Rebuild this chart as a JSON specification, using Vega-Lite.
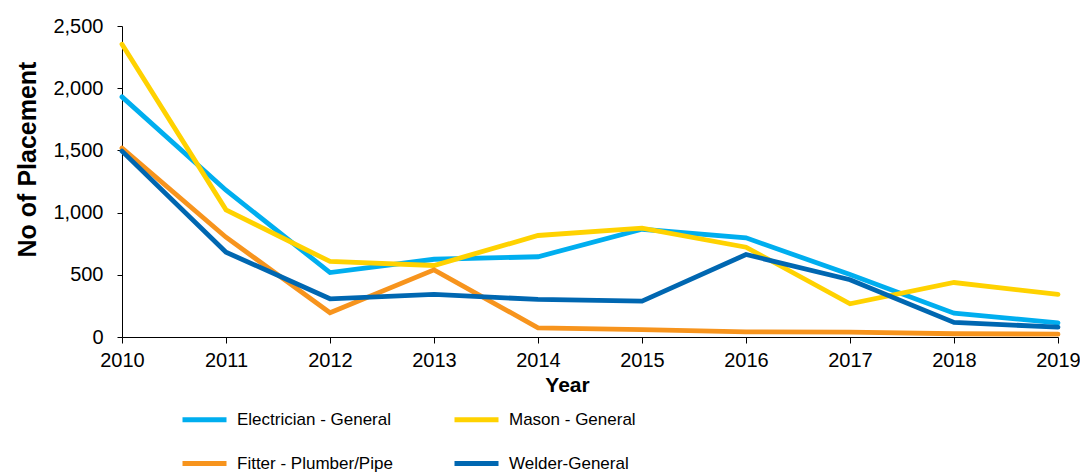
{
  "$schema": "https://vega.github.io/schema/vega-lite/v6.json",
  "width": 936,
  "height": 311,
  "autosize": "none",
  "padding": {"left": 122, "top": 26, "right": 22, "bottom": 137},
  "background": "white",
  "config": {
    "view": {"stroke": null},
    "font": "Liberation Sans",
    "axis": {"labelFont": "Liberation Sans", "titleFont": "Liberation Sans", "labelColor": "#000", "titleColor": "#000", "domainColor": "#000", "tickColor": "#000", "grid": false}
  },
  "data": {
    "values": [
      {"year": 2010, "trade": "Electrician - General", "n": 1930},
      {"year": 2011, "trade": "Electrician - General", "n": 1180},
      {"year": 2012, "trade": "Electrician - General", "n": 518},
      {"year": 2013, "trade": "Electrician - General", "n": 625},
      {"year": 2014, "trade": "Electrician - General", "n": 645},
      {"year": 2015, "trade": "Electrician - General", "n": 866},
      {"year": 2016, "trade": "Electrician - General", "n": 797},
      {"year": 2017, "trade": "Electrician - General", "n": 502},
      {"year": 2018, "trade": "Electrician - General", "n": 191},
      {"year": 2019, "trade": "Electrician - General", "n": 114},
      {"year": 2010, "trade": "Mason - General", "n": 2354},
      {"year": 2011, "trade": "Mason - General", "n": 1022},
      {"year": 2012, "trade": "Mason - General", "n": 607},
      {"year": 2013, "trade": "Mason - General", "n": 575},
      {"year": 2014, "trade": "Mason - General", "n": 816},
      {"year": 2015, "trade": "Mason - General", "n": 875},
      {"year": 2016, "trade": "Mason - General", "n": 722},
      {"year": 2017, "trade": "Mason - General", "n": 267},
      {"year": 2018, "trade": "Mason - General", "n": 438},
      {"year": 2019, "trade": "Mason - General", "n": 342},
      {"year": 2010, "trade": "Fitter - Plumber/Pipe", "n": 1518},
      {"year": 2011, "trade": "Fitter - Plumber/Pipe", "n": 802},
      {"year": 2012, "trade": "Fitter - Plumber/Pipe", "n": 195},
      {"year": 2013, "trade": "Fitter - Plumber/Pipe", "n": 540},
      {"year": 2014, "trade": "Fitter - Plumber/Pipe", "n": 74},
      {"year": 2015, "trade": "Fitter - Plumber/Pipe", "n": 60},
      {"year": 2016, "trade": "Fitter - Plumber/Pipe", "n": 42},
      {"year": 2017, "trade": "Fitter - Plumber/Pipe", "n": 39},
      {"year": 2018, "trade": "Fitter - Plumber/Pipe", "n": 26},
      {"year": 2019, "trade": "Fitter - Plumber/Pipe", "n": 23},
      {"year": 2010, "trade": "Welder-General", "n": 1494},
      {"year": 2011, "trade": "Welder-General", "n": 682},
      {"year": 2012, "trade": "Welder-General", "n": 307},
      {"year": 2013, "trade": "Welder-General", "n": 342},
      {"year": 2014, "trade": "Welder-General", "n": 302},
      {"year": 2015, "trade": "Welder-General", "n": 288},
      {"year": 2016, "trade": "Welder-General", "n": 663},
      {"year": 2017, "trade": "Welder-General", "n": 460},
      {"year": 2018, "trade": "Welder-General", "n": 117},
      {"year": 2019, "trade": "Welder-General", "n": 79}
    ]
  },
  "mark": {"type": "line", "strokeWidth": 4.8, "strokeCap": "round", "strokeJoin": "miter"},
  "encoding": {
    "x": {
      "field": "year", "type": "quantitative",
      "scale": {"domain": [2010, 2019], "nice": false, "zero": false},
      "axis": {"values": [2010,2011,2012,2013,2014,2015,2016,2017,2018,2019], "format": "d", "title": "Year", "titleFontSize": 21, "titleFontWeight": "bold", "titleX": 445, "titleY": 54, "titleBaseline": "alphabetic", "titleAnchor": null, "labelFontSize": 20, "labelPadding": 7, "tickSize": 6, "labelFlush": false, "labelOverlap": false}
    },
    "y": {
      "field": "n", "type": "quantitative",
      "scale": {"domain": [0, 2500], "nice": false},
      "axis": {"values": [0,500,1000,1500,2000,2500], "format": ",.0f", "title": "No of Placement", "titleFontSize": 25, "titleFontWeight": "bold", "titleX": -87, "titleY": 133, "titleAngle": -90, "titleBaseline": "alphabetic", "titleAlign": "center", "labelFontSize": 20, "labelPadding": 14, "tickSize": 5}
    },
    "color": {
      "field": "trade", "type": "nominal",
      "sort": ["Electrician - General", "Fitter - Plumber/Pipe", "Mason - General", "Welder-General"],
      "scale": {"domain": ["Electrician - General", "Fitter - Plumber/Pipe", "Mason - General", "Welder-General"], "range": ["#00AEEF", "#F7941D", "#FFD200", "#0067B1"]},
      "legend": {"title": null, "orient": "none", "legendX": 58, "legendY": 369, "columns": 2, "symbolType": "stroke", "symbolSize": 1936, "symbolStrokeWidth": 5, "labelFontSize": 17, "labelFont": "Liberation Sans", "labelColor": "#000", "labelOffset": 8, "columnPadding": 51, "rowPadding": 9, "labelLimit": 300}
    }
  }
}
